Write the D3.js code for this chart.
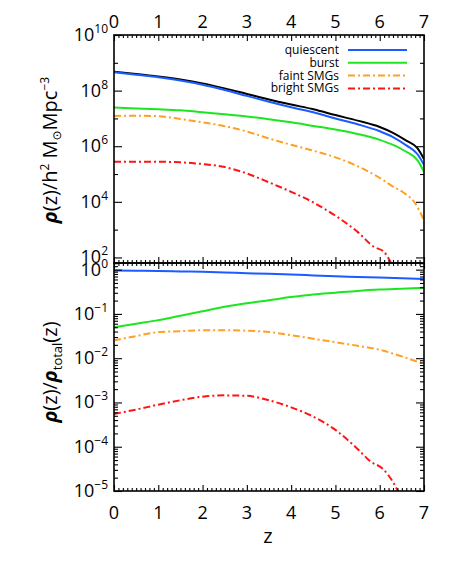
<!DOCTYPE html>
<html lang="en">
<head>
<meta charset="UTF-8">
<title>rho(z) by population</title>
<script src="https://d3js.org/d3.v7.min.js"></script>
<style>
  body { margin: 0; background: #fff; }
  svg { font-family: "Open Sans", "DejaVu Sans", sans-serif; }
  .frame { fill: none; stroke: #000; stroke-width: 1.6px; }
  .tick line { stroke: #000; stroke-width: 1.1px; }
  .domain { display: none; }
  .curve { fill: none; stroke-width: 2px; }
</style>
</head>
<body>
<svg id="chart" width="458" height="564"></svg>
<script>
// ---- data (log10 values) ----
// upper panel: rho(z) in h^2 Msun Mpc^-3
const zTotal     = [0, 0.5, 1, 1.5, 2, 2.5, 3, 3.5, 4, 4.5, 5, 5.5, 6, 6.3, 6.6, 6.85, 7];
const logTotal   = [8.68, 8.60, 8.51, 8.40, 8.26, 8.08, 7.88, 7.68, 7.50, 7.33, 7.12, 6.92, 6.69, 6.48, 6.20, 5.93, 5.54];
const logQuiesc  = [8.66, 8.57, 8.48, 8.36, 8.21, 8.02, 7.81, 7.60, 7.40, 7.22, 7.00, 6.79, 6.54, 6.33, 6.03, 5.72, 5.33];
const logBurst   = [7.39, 7.36, 7.33, 7.29, 7.22, 7.15, 7.07, 6.97, 6.86, 6.73, 6.60, 6.44, 6.23, 6.05, 5.80, 5.50, 5.08];
const zFaint     = [0, 0.5, 1, 1.5, 2, 2.5, 3, 3.5, 4, 4.5, 5, 5.5, 6, 6.3, 6.55, 6.8, 7];
const logFaint   = [7.09, 7.10, 7.08, 6.98, 6.86, 6.72, 6.53, 6.28, 6.05, 5.84, 5.60, 5.28, 4.86, 4.55, 4.32, 3.95, 3.33];
const zBright    = [0, 0.5, 1, 1.5, 2, 2.5, 3, 3.5, 4, 4.5, 5, 5.5, 5.87, 6.09, 6.24, 6.4];
const logBright  = [5.44, 5.44, 5.44, 5.42, 5.36, 5.25, 5.02, 4.70, 4.36, 3.98, 3.50, 2.92, 2.38, 2.21, 1.85, 1.30];

// lower panel: rho(z)/rho_total(z)
const zFrac          = [0, 0.5, 1, 1.5, 2, 2.5, 3, 3.5, 4, 4.5, 5, 5.5, 6, 6.5, 7];
const logFracQuiesc  = [-0.02, -0.025, -0.03, -0.04, -0.05, -0.065, -0.08, -0.095, -0.11, -0.13, -0.15, -0.165, -0.18, -0.195, -0.21];
const logFracBurst   = [-1.30, -1.22, -1.14, -1.04, -0.94, -0.84, -0.76, -0.69, -0.62, -0.56, -0.52, -0.48, -0.45, -0.43, -0.41];
const logFracFaint   = [-1.60, -1.50, -1.41, -1.39, -1.37, -1.37, -1.38, -1.41, -1.48, -1.56, -1.64, -1.72, -1.81, -1.96, -2.13];
const zFracBright    = [0, 0.5, 1, 1.5, 2, 2.5, 3, 3.5, 4, 4.5, 5, 5.5, 5.8, 6.06, 6.2, 6.4, 6.5];
const logFracBright  = [-3.26, -3.16, -3.05, -2.95, -2.87, -2.84, -2.85, -2.95, -3.11, -3.32, -3.62, -4.05, -4.34, -4.49, -4.65, -4.98, -5.2];

const xTicks = [0, 1, 2, 3, 4, 5, 6, 7];
const topExps = [10, 8, 6, 4, 2];
const botExps = [0, -1, -2, -3, -4, -5];
const legendNames = ["quiescent", "burst", "faint SMGs", "bright SMGs"];

// ---- layout ----
const pLeft = 114, pRight = 424, pTop = 35, pMid = 263, pBottom = 491;
const svg = d3.select("#chart");
svg.append("rect").attr("width", 458).attr("height", 564).attr("fill", "#fff");

const x = d3.scaleLinear().domain([0, 7]).range([pLeft, pRight]);
const yA = d3.scaleLog().domain([Math.pow(10, 1.8), 1e10]).range([pMid, pTop]);
const yB = d3.scaleLog().domain([1e-5, Math.pow(10, 0.15)]).range([pBottom, pMid]);

const COL = { total: "#000", q: "#1a5cff", b: "#1ee61e", f: "#ffa020", r: "#ff1414" };
const DASH = "7,3,2,3";

const defs = svg.append("defs");
defs.append("clipPath").attr("id", "clipA").append("rect")
  .attr("x", pLeft).attr("y", pTop).attr("width", pRight - pLeft).attr("height", pMid - pTop);
defs.append("clipPath").attr("id", "clipB").append("rect")
  .attr("x", pLeft).attr("y", pMid).attr("width", pRight - pLeft).attr("height", pBottom - pMid);

function drawCurve(g, y, zs, logs, color, dash) {
  const pts = zs.map((z, i) => [z, Math.pow(10, logs[i])]);
  g.append("path")
    .datum(pts)
    .attr("class", "curve")
    .attr("stroke", color)
    .attr("stroke-dasharray", dash || null)
    .attr("d", d3.line().x(d => x(d[0])).y(d => y(d[1])).curve(d3.curveMonotoneX));
}

const gA = svg.append("g").attr("clip-path", "url(#clipA)");
drawCurve(gA, yA, zBright, logBright, COL.r, DASH);
drawCurve(gA, yA, zFaint, logFaint, COL.f, DASH);
drawCurve(gA, yA, zTotal, logBurst, COL.b);
drawCurve(gA, yA, zTotal, logTotal, COL.total);
drawCurve(gA, yA, zTotal, logQuiesc, COL.q);

const gB = svg.append("g").attr("clip-path", "url(#clipB)");
drawCurve(gB, yB, zFracBright, logFracBright, COL.r, DASH);
drawCurve(gB, yB, zFrac, logFracFaint, COL.f, DASH);
drawCurve(gB, yB, zFrac, logFracBurst, COL.b);
drawCurve(gB, yB, zFrac, logFracQuiesc, COL.q);

// ---- ticks ----
const minorX = d3.range(1, 70).map(i => i / 10).filter(v => Math.abs(v - Math.round(v)) > 1e-6);

function xAxisTicks(y, axisFn) {
  svg.append("g").attr("transform", `translate(0,${y})`)
    .call(axisFn(x).tickValues(xTicks).tickSize(-6).tickSizeOuter(0).tickFormat(""));
  svg.append("g").attr("transform", `translate(0,${y})`)
    .call(axisFn(x).tickValues(minorX).tickSize(-3).tickSizeOuter(0).tickFormat(""));
}
xAxisTicks(pTop, d3.axisTop);
xAxisTicks(pMid, d3.axisBottom);
xAxisTicks(pMid, d3.axisTop);
xAxisTicks(pBottom, d3.axisBottom);

const decA = d3.range(2, 11);
const majA = decA.filter(e => e % 2 === 0).map(e => Math.pow(10, e));
const minA = decA.filter(e => e % 2 !== 0).map(e => Math.pow(10, e));
const decB = d3.range(-5, 1).map(e => Math.pow(10, e));
const minB = [];
d3.range(-5, 0).forEach(e => { for (let k = 2; k <= 9; k++) minB.push(k * Math.pow(10, e)); });
minB.push(...[1.2, 1.4].filter(v => v <= Math.pow(10, 0.15)));

function yAxisTicks(y, majors, minors) {
  [[d3.axisLeft, pLeft], [d3.axisRight, pRight]].forEach(([fn, xx]) => {
    svg.append("g").attr("transform", `translate(${xx},0)`)
      .call(fn(y).tickValues(majors).tickSize(-8).tickSizeOuter(0).tickFormat(""));
    svg.append("g").attr("transform", `translate(${xx},0)`)
      .call(fn(y).tickValues(minors).tickSize(-4).tickSizeOuter(0).tickFormat(""));
  });
}
yAxisTicks(yA, majA, minA);
yAxisTicks(yB, decB, minB);

// frames
svg.append("rect").attr("class", "frame").attr("x", pLeft).attr("y", pTop)
  .attr("width", pRight - pLeft).attr("height", pMid - pTop);
svg.append("rect").attr("class", "frame").attr("x", pLeft).attr("y", pMid)
  .attr("width", pRight - pLeft).attr("height", pBottom - pMid);

// ---- tick labels ----
xTicks.forEach(v => {
  svg.append("text").attr("x", x(v)).attr("y", 28).attr("text-anchor", "middle")
    .attr("font-size", 18).text(v);
  svg.append("text").attr("x", x(v)).attr("y", 519).attr("text-anchor", "middle")
    .attr("font-size", 18).text(v);
});

function powLabel(yPos, e) {
  const t = svg.append("text").attr("x", 108).attr("y", yPos + 6)
    .attr("text-anchor", "end").attr("font-size", 18);
  t.append("tspan").text("10");
  t.append("tspan").attr("font-size", 12).attr("dy", -8)
    .text(e < 0 ? "\u2212" + (-e) : String(e));
}
topExps.forEach(e => powLabel(yA(Math.pow(10, e)), e));
botExps.forEach(e => powLabel(yB(Math.pow(10, e)), e));

// ---- axis titles ----
svg.append("text").attr("x", 268).attr("y", 543).attr("text-anchor", "middle")
  .attr("font-size", 20).text("z");

function richText(cx, cy, parts, size) {
  const t = svg.append("text")
    .attr("transform", `translate(${cx},${cy}) rotate(-90)`)
    .attr("text-anchor", "middle").attr("font-size", size);
  let shift = 0;
  parts.forEach(p => {
    const s = t.append("tspan").text(p.t);
    const target = p.dy || 0;
    if (target !== shift) { s.attr("dy", target - shift); shift = target; }
    if (p.size) s.attr("font-size", p.size);
    if (p.italic) s.attr("font-style", "italic").attr("font-weight", "bold");
  });
}
richText(57, 150, [
  { t: "\u03c1", italic: true }, { t: "(z)/h" }, { t: "2", size: 12, dy: -8 },
  { t: " M" }, { t: "\u2299", size: 12, dy: 4 }, { t: "Mpc" }, { t: "\u22123", size: 12, dy: -8 }
], 20);
richText(57, 372, [
  { t: "\u03c1", italic: true }, { t: "(z)/" }, { t: "\u03c1", italic: true },
  { t: "total", size: 13, dy: 5 }, { t: "(z)" }
], 20);

// ---- legend ----
const legColors = [COL.q, COL.b, COL.f, COL.r];
legendNames.forEach((name, i) => {
  const yy = 50 + i * 12.8;
  svg.append("line").attr("x1", 348).attr("x2", 407).attr("y1", yy).attr("y2", yy)
    .attr("stroke", legColors[i]).attr("stroke-width", 2)
    .attr("stroke-dasharray", i >= 2 ? DASH : null);
  svg.append("text").attr("x", 339).attr("y", yy + 4).attr("text-anchor", "end")
    .attr("font-size", 12).text(name);
});
</script>
</body>
</html>
